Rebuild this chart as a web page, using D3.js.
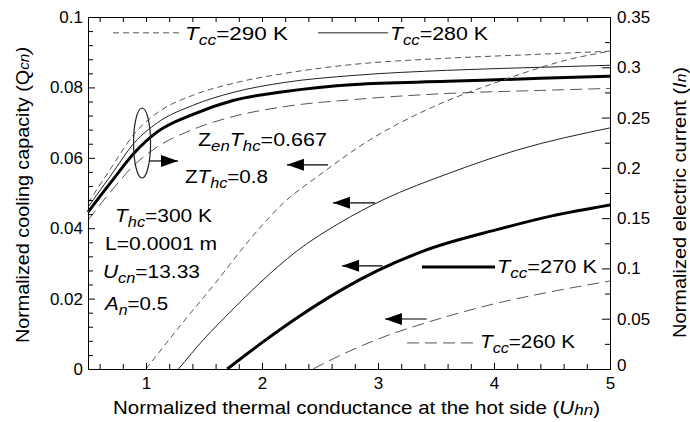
<!DOCTYPE html>
<html>
<head>
<meta charset="utf-8">
<script src="https://d3js.org/d3.v7.min.js"></script>
<style>
  body { margin: 0; background: #fff; }
  svg { display: block; }
  text { font-family: "Liberation Sans", Arial, sans-serif; fill: #000; }
  .axis path, .axis line { stroke: #000; stroke-width: 1; }
  .axis text { font-size: 17px; }
</style>
</head>
<body>
<svg id="chart" width="690" height="422"></svg>
<script>
// normalized current curves (right axis), common x grid
const uhnI = [0.5, 0.7, 0.9, 1.1, 1.4, 1.75, 2.2, 2.8, 3.6, 4.4, 5.0]
const current290 = [0.165, 0.200, 0.234, 0.255, 0.272, 0.284, 0.294, 0.303, 0.309, 0.313, 0.316]
const current280 = [0.161, 0.193, 0.225, 0.245, 0.262, 0.275, 0.285, 0.292, 0.297, 0.300, 0.302]
const current270 = [0.156, 0.186, 0.215, 0.236, 0.253, 0.267, 0.276, 0.283, 0.286, 0.289, 0.291]
const current260 = [0.148, 0.177, 0.203, 0.221, 0.238, 0.251, 0.261, 0.268, 0.274, 0.277, 0.279]

// normalized cooling capacity curves (left axis)
const uhnQ290 = [1.0, 1.3, 1.6, 1.9, 2.18, 2.5, 2.93, 3.47, 4.08, 4.63, 5.0]
const cool290 = [0, 0.0125, 0.0245, 0.037, 0.047, 0.0552, 0.0651, 0.0744, 0.0821, 0.0878, 0.0903]
const uhnQ280 = [1.28, 1.5, 1.75, 1.98, 2.3, 2.67, 3.04, 3.62, 4.2, 5.0]
const cool280 = [0, 0.0085, 0.017, 0.0244, 0.0335, 0.0415, 0.048, 0.0557, 0.0622, 0.0685]
const uhnQ270 = [1.70, 2.0, 2.3, 2.67, 3.0, 3.39, 4.05, 4.5, 5.0]
const cool270 = [0, 0.0075, 0.0145, 0.0222, 0.028, 0.0335, 0.0398, 0.0435, 0.0466]
const uhnQ260 = [2.44, 2.67, 3.0, 3.5, 4.0, 4.5, 5.0]
const cool260 = [0, 0.0038, 0.0085, 0.014, 0.0185, 0.022, 0.025]

// tick labels
const xTicks = [1, 2, 3, 4, 5]
const leftTicks = [0, 0.02, 0.04, 0.06, 0.08, 0.1]
const rightTicks = [0, 0.05, 0.1, 0.15, 0.2, 0.25, 0.3, 0.35]

const svg = d3.select("#chart")
const x = d3.scaleLinear([0.5, 5], [88, 610])
const yL = d3.scaleLinear([0, 0.1], [369, 17])
const yR = d3.scaleLinear([0, 0.35], [369, 17])

// line styles per Tcc
const styles = {
  "290": {stroke: "#555", width: 1, dash: "6,4"},
  "280": {stroke: "#222", width: 1, dash: null},
  "270": {stroke: "#000", width: 3, dash: null},
  "260": {stroke: "#555", width: 1, dash: "12,6"}
}

function drawCurve(xs, ys, yScale, st) {
  const line = d3.line()
    .x((d, i) => x(xs[i]))
    .y(d => yScale(d))
    .curve(d3.curveMonotoneX)
  svg.append("path")
    .attr("d", line(ys))
    .attr("fill", "none")
    .attr("stroke", st.stroke)
    .attr("stroke-width", st.width)
    .attr("stroke-dasharray", st.dash)
}

drawCurve(uhnI, current290, yR, styles["290"])
drawCurve(uhnI, current280, yR, styles["280"])
drawCurve(uhnI, current260, yR, styles["260"])
drawCurve(uhnI, current270, yR, styles["270"])
drawCurve(uhnQ290, cool290, yL, styles["290"])
drawCurve(uhnQ280, cool280, yL, styles["280"])
drawCurve(uhnQ270, cool270, yL, styles["270"])
drawCurve(uhnQ260, cool260, yL, styles["260"])

// axes: ticks point inward
const minorX = d3.range(6, 50, 2).map(d => d / 10).filter(d => d % 1 !== 0)
const minorL = d3.range(0, 101, 4).map(d => d / 1000).filter(d => !leftTicks.includes(d))
const minorR = [0.025, 0.075, 0.125, 0.175, 0.225, 0.275, 0.325]

svg.append("g").attr("class", "axis").attr("transform", "translate(0,369)")
  .call(d3.axisBottom(x).tickValues(xTicks).tickSizeInner(-6).tickSizeOuter(0).tickPadding(8)
    .tickFormat(d3.format("d")))
svg.append("g").attr("class", "axis").attr("transform", "translate(0,369)")
  .call(d3.axisBottom(x).tickValues(minorX).tickSizeInner(-5).tickSizeOuter(0).tickFormat(""))
svg.append("g").attr("class", "axis").attr("transform", "translate(0,17)")
  .call(d3.axisTop(x).tickValues(xTicks.concat(minorX)).tickSizeInner(-5).tickSizeOuter(0).tickFormat(""))

svg.append("g").attr("class", "axis").attr("transform", "translate(88,0)")
  .call(d3.axisLeft(yL).tickValues(leftTicks).tickSizeInner(-7).tickSizeOuter(0).tickPadding(5)
    .tickFormat(d3.format("~g")))
svg.append("g").attr("class", "axis").attr("transform", "translate(88,0)")
  .call(d3.axisLeft(yL).tickValues(minorL).tickSizeInner(-5).tickSizeOuter(0).tickFormat(""))

svg.append("g").attr("class", "axis").attr("transform", "translate(610,0)")
  .call(d3.axisRight(yR).tickValues(rightTicks).tickSizeInner(-8).tickSizeOuter(0).tickPadding(7)
    .tickFormat(d3.format("~g")))
  .selectAll(".tick text").attr("dy", (d) => d === 0 ? "0.1em" : "0.32em")
svg.append("g").attr("class", "axis").attr("transform", "translate(610,0)")
  .call(d3.axisRight(yR).tickValues(minorR).tickSizeInner(-5).tickSizeOuter(0).tickFormat(""))

// rich text helper: segments [text, kind] with kind "i" italic, "s" italic subscript
function richText(px, py, segs, size, width, anchor) {
  const t = svg.append("text").attr("x", px).attr("y", py)
    .attr("font-size", size).attr("text-anchor", anchor || "start")
  if (width) t.attr("textLength", width).attr("lengthAdjust", "spacingAndGlyphs")
  let lowered = false
  segs.forEach(([str, kind]) => {
    const sp = t.append("tspan").text(str)
    if (kind === "i" || kind === "s") sp.attr("font-style", "italic")
    if (kind === "s") {
      sp.attr("font-size", size * 0.78)
      if (!lowered) { sp.attr("dy", size * 0.28); lowered = true }
    } else if (lowered) {
      sp.attr("dy", -size * 0.28); lowered = false
    }
  })
  return t
}

// annotations (positions in data units of the left axis)
const fs = 18
richText(x(1.448), yL(0.0634), [["Z"], ["en", "s"], ["T", "i"], ["hc", "s"], ["=0.667"]], fs, 129)
richText(x(1.336), yL(0.0528), [["Z"], ["T", "i"], ["hc", "s"], ["=0.8"]], fs, 83)
richText(x(0.733), yL(0.0418), [["T", "i"], ["hc", "s"], ["=300 K"]], fs, 97)
richText(x(0.647), yL(0.0338), [["L=0.0001 m"]], fs, 112)
richText(x(0.629), yL(0.0259), [["U", "i"], ["cn", "s"], ["=13.33"]], fs, 97)
richText(x(0.647), yL(0.0168), [["A", "i"], ["n", "s"], ["=0.5"]], fs, 63)

// legend entries
const legend = [
  {key: "290", x0: 0.716, x1: 1.319, y: 0.0955, ty: 0.0935, w: 103},
  {key: "280", x0: 2.483, x1: 3.086, y: 0.0955, ty: 0.0935, w: 98},
  {key: "270", x0: 3.379, x1: 4.009, y: 0.029, ty: 0.0273, w: 100},
  {key: "260", x0: 3.25, x1: 3.862, y: 0.0074, ty: 0.006, w: 95}
]
legend.forEach(d => {
  const st = styles[d.key]
  svg.append("line")
    .attr("x1", x(d.x0)).attr("x2", x(d.x1))
    .attr("y1", yL(d.y)).attr("y2", yL(d.y))
    .attr("stroke", st.stroke).attr("stroke-width", st.width)
    .attr("stroke-dasharray", st.dash)
  richText(x(d.x1) + 2, yL(d.ty), [["T", "i"], ["cc", "s"], ["=" + d.key + " K"]], fs, d.w)
})

// ellipse marking the current curves, with arrows
svg.append("ellipse")
  .attr("cx", x(0.966)).attr("cy", yL(0.0642))
  .attr("rx", 8.5).attr("ry", 35)
  .attr("fill", "none").attr("stroke", "#222").attr("stroke-width", 1.2)

const arrows = [
  {tip: 1.276, tail: 1.034, y: 0.0591},
  {tip: 2.215, tail: 2.569, y: 0.058},
  {tip: 2.612, tail: 2.974, y: 0.0472},
  {tip: 2.69, tail: 3.04, y: 0.0293},
  {tip: 3.06, tail: 3.42, y: 0.0142}
]
arrows.forEach(a => {
  const tx = x(a.tip), bx = x(a.tail), yy = yL(a.y)
  const dir = bx > tx ? 1 : -1
  svg.append("line").attr("x1", tx).attr("x2", bx).attr("y1", yy).attr("y2", yy)
    .attr("stroke", "#000").attr("stroke-width", 1.2)
  svg.append("path")
    .attr("d", `M${tx},${yy} L${tx + dir * 17},${yy - 6} L${tx + dir * 17},${yy + 6} Z`)
    .attr("fill", "#000")
})

// axis titles
const bt = svg.append("text").attr("x", 113).attr("y", 414).attr("font-size", 18)
  .attr("textLength", 487).attr("lengthAdjust", "spacingAndGlyphs")
bt.append("tspan").text("Normalized thermal conductance at the hot side (")
bt.append("tspan").text("U").attr("font-style", "italic")
bt.append("tspan").text("hn").attr("font-style", "italic").attr("font-size", 15).attr("dy", 1)
bt.append("tspan").text(")").attr("dy", -1)

const lt = svg.append("text").attr("transform", "translate(29,343) rotate(-90)")
  .attr("font-size", 18).attr("textLength", 296).attr("lengthAdjust", "spacingAndGlyphs")
lt.append("tspan").text("Normalized cooling capacity (Q")
lt.append("tspan").text("cn").attr("font-style", "italic").attr("font-size", 14)
lt.append("tspan").text(")").attr("font-style", "italic")

const rt = svg.append("text").attr("transform", "translate(686,338) rotate(-90)")
  .attr("font-size", 18).attr("textLength", 271).attr("lengthAdjust", "spacingAndGlyphs")
rt.append("tspan").text("Normalized electric current (")
rt.append("tspan").text("I").attr("font-style", "italic")
rt.append("tspan").text("n").attr("font-style", "italic").attr("font-size", 14)
rt.append("tspan").text(")")
</script>
</body>
</html>
